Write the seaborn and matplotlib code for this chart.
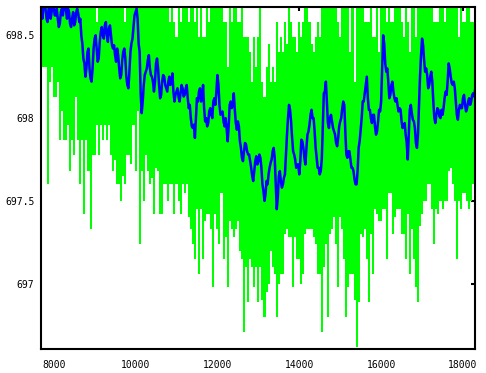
import numpy as np
import pandas as pd
import matplotlib
matplotlib.use("Agg")
import matplotlib.pyplot as plt
import seaborn as sns

# ---- data (one column every 50 x-units) ----
x_start = 7700
x_step = 50

green_hi = [
    698.7, 698.7, 698.7, 698.7, 698.7, 698.7, 698.7, 698.7, 698.7, 698.7,
    698.7, 698.7, 698.7, 698.7, 698.7, 698.7, 698.7, 698.7, 698.7, 698.7,
    698.7, 698.7, 698.7, 698.7, 698.7, 698.7, 698.7, 698.58, 698.7, 698.7,
    698.7, 698.7, 698.7, 698.7, 698.7, 698.7, 698.7, 698.7, 698.7, 698.7,
    698.7, 698.58, 698.7, 698.7, 698.7, 698.7, 698.7, 698.7, 698.7, 698.7,
    698.7, 698.7, 698.7, 698.7, 698.7, 698.7, 698.7, 698.7, 698.7, 698.7,
    698.7, 698.7, 698.7, 698.58, 698.7, 698.58, 698.49, 698.7, 698.58, 698.7,
    698.7, 698.7, 698.58, 698.7, 698.7, 698.58, 698.7, 698.49, 698.7, 698.49,
    698.49, 698.7, 698.58, 698.7, 698.7, 698.7, 698.7, 698.7, 698.7, 698.58,
    698.58, 698.31, 698.7, 698.58, 698.7, 698.7, 698.58, 698.58, 698.7, 698.49,
    698.49, 698.49, 698.4, 698.22, 698.49, 698.31, 698.49, 698.7, 698.22, 698.13,
    698.31, 698.45, 698.22, 698.31, 698.22, 698.58, 698.4, 698.49, 698.4, 698.58,
    698.45, 698.7, 698.58, 698.49, 698.49, 698.4, 698.58, 698.49, 698.58, 698.7,
    698.7, 698.58, 698.45, 698.4, 698.49, 698.58, 698.49, 698.7, 698.7, 698.7,
    698.7, 698.7, 698.7, 698.7, 698.7, 698.58, 698.49, 698.7, 698.7, 698.7,
    698.7, 698.4, 698.7, 698.22, 698.7, 698.7, 698.7, 698.7, 698.58, 698.58,
    698.58, 698.7, 698.49, 698.49, 698.7, 698.4, 698.7, 698.7, 698.7, 698.58,
    698.7, 698.58, 698.58, 698.7, 698.7, 698.7, 698.58, 698.49, 698.7, 698.58,
    698.4, 698.7, 698.7, 698.49, 698.7, 698.7, 698.7, 698.7, 698.7, 698.7,
    698.7, 698.7, 698.58, 698.58, 698.58, 698.7, 698.7, 698.58, 698.7, 698.7,
    698.7, 698.7, 698.7, 698.7, 698.49, 698.7, 698.58, 698.58, 698.7, 698.7,
    698.58, 698.58, 698.7,
]

green_lo = [
    697.87, 698.31, 698.31, 697.6, 698.22, 698.31, 698.13, 698.13, 698.22, 697.87,
    698.04, 697.87, 697.87, 697.96, 697.68, 697.87, 697.78, 698.13, 697.87, 697.6,
    697.87, 697.42, 697.87, 697.68, 697.33, 697.78, 697.78, 697.96, 697.78, 697.96,
    697.87, 697.96, 697.87, 697.96, 697.78, 697.68, 697.75, 697.6, 697.6, 697.5,
    697.65, 697.6, 697.78, 697.78, 697.72, 697.96, 697.68, 698.04, 697.24, 697.68,
    697.5, 697.78, 697.68, 697.6, 697.64, 697.42, 697.7, 697.68, 697.42, 697.42,
    697.6, 697.6, 697.5, 697.6, 697.6, 697.42, 697.6, 697.5, 697.42, 697.6,
    697.55, 697.6, 697.4, 697.33, 697.24, 697.15, 697.45, 697.06, 697.45, 697.15,
    697.38, 697.42, 697.42, 697.33, 696.98, 697.42, 697.33, 697.24, 697.55, 697.15,
    697.28, 696.98, 697.38, 697.33, 697.28, 697.33, 697.38, 697.2, 697.15, 696.71,
    697.1, 696.89, 697.15, 697.1, 696.98, 697.1, 696.89, 697.1, 696.9, 696.8,
    696.95, 697.0, 697.2, 697.1, 697.06, 696.8, 697.0, 697.06, 697.06, 697.3,
    697.33, 697.28, 697.28, 696.98, 697.28, 697.15, 697.15, 697.0, 697.06, 697.3,
    697.33, 697.33, 697.33, 697.28, 697.24, 697.06, 697.06, 696.71, 697.1, 697.24,
    696.8, 697.3, 697.33, 697.4, 697.24, 696.98, 697.4, 697.33, 697.15, 696.8,
    696.98, 697.06, 697.06, 696.9, 696.62, 696.89, 697.3, 697.28, 697.33, 697.15,
    696.89, 697.3, 697.06, 697.45, 697.42, 697.38, 697.38, 697.45, 697.45, 697.15,
    697.55, 697.55, 697.3, 697.4, 697.45, 697.45, 697.3, 697.3, 697.15, 697.42,
    697.06, 697.33, 697.15, 696.98, 696.89, 697.35, 697.42, 697.5, 697.5, 697.6,
    697.6, 697.45, 697.24, 697.45, 697.42, 697.5, 697.45, 697.5, 697.5, 697.68,
    697.7, 697.6, 697.5, 697.15, 697.5, 697.45, 697.55, 697.55, 697.5, 697.45,
    697.5, 697.6, 697.6,
]

# moving average, sampled at each column ...
blue_avg = [
    698.65, 698.68, 698.66, 698.58, 698.67, 698.64, 698.68, 698.62, 698.6, 698.57,
    698.66, 698.68, 698.65, 698.66, 698.57, 698.6, 698.56, 698.64, 698.63, 698.6,
    698.45, 698.33, 698.3, 698.42, 698.24, 698.3, 698.48, 698.42, 698.36, 698.52,
    698.5, 698.56, 698.5, 698.54, 698.5, 698.42, 698.38, 698.42, 698.3, 698.26,
    698.4, 698.36, 698.2, 698.28, 698.45, 698.55, 698.64, 698.6, 698.4, 698.03,
    698.2, 698.28, 698.35, 698.3, 698.25, 698.16, 698.33, 698.3, 698.12, 698.22,
    698.25, 698.18, 698.22, 698.2, 698.27, 698.1, 698.16, 698.13, 698.15, 698.18,
    698.14, 698.2, 698.06, 698.0, 697.94, 697.88, 698.12, 698.16, 698.1, 698.2,
    697.98, 697.95, 698.04, 698.02, 698.1, 698.08, 698.26, 698.08, 698.03, 697.98,
    698.0, 697.86, 698.08, 698.06, 698.15, 697.97, 697.98, 697.86, 697.76, 697.8,
    697.84, 697.78, 697.74, 697.65, 697.68, 697.77, 697.74, 697.76, 697.6, 697.5,
    697.62, 697.66, 697.73, 697.8, 697.76, 697.45, 697.65, 697.62, 697.6, 697.66,
    697.9, 698.08, 697.98, 697.8, 697.75, 697.72, 697.66, 697.87, 697.82, 697.72,
    697.9, 697.96, 698.05, 698.0, 697.82, 697.7, 697.66, 697.75, 698.15, 698.22,
    697.97, 698.0, 697.98, 697.92, 697.85, 697.88, 697.98, 698.06, 698.08, 697.78,
    697.8, 697.75, 697.7, 697.63, 697.6, 697.82, 697.93, 698.1, 698.15, 698.25,
    698.05, 698.0, 698.02, 697.95, 697.92, 698.05, 698.1, 698.5, 698.33, 698.3,
    698.12, 698.2, 698.16, 698.1, 698.08, 698.06, 697.98, 697.96, 697.9, 697.75,
    698.05, 698.03, 697.98, 697.85, 697.9, 698.25, 698.48, 698.35, 698.3, 698.18,
    698.25, 698.22, 698.0, 698.02, 698.05, 698.0, 698.02, 698.12, 698.14, 698.33,
    698.25, 698.2, 698.18, 698.02, 698.05, 698.06, 698.12, 698.08, 698.06, 698.12,
    698.1, 698.15, 698.18,
]

# ... and half-way between columns (the jitter of the average)
blue_mid = [
    698.6, 698.7, 698.6, 698.66, 698.6, 698.7, 698.62, 698.66, 698.55, 698.64,
    698.62, 698.7, 698.6, 698.64, 698.55, 698.64, 698.58, 698.66, 698.58, 698.5,
    698.36, 698.25, 698.4, 698.3, 698.22, 698.42, 698.5, 698.34, 698.46, 698.55,
    698.48, 698.58, 698.46, 698.56, 698.44, 698.44, 698.34, 698.38, 698.24, 698.35,
    698.42, 698.25, 698.18, 698.4, 698.48, 698.62, 698.66, 698.45, 698.15, 698.1,
    698.26, 698.3, 698.38, 698.26, 698.22, 698.22, 698.36, 698.2, 698.14, 698.26,
    698.2, 698.16, 698.25, 698.22, 698.16, 698.14, 698.18, 698.1, 698.2, 698.13,
    698.18, 698.12, 698.08, 697.95, 697.96, 698.0, 698.1, 698.18, 698.12, 698.06,
    698.0, 697.97, 698.06, 698.0, 698.12, 698.16, 698.2, 698.02, 698.04, 697.95,
    697.94, 697.95, 698.1, 698.08, 698.05, 697.93, 697.95, 697.82, 697.74, 697.85,
    697.8, 697.78, 697.7, 697.62, 697.74, 697.72, 697.78, 697.7, 697.56, 697.54,
    697.6, 697.7, 697.75, 697.82, 697.6, 697.52, 697.68, 697.58, 697.64, 697.78,
    698.0, 698.05, 697.88, 697.78, 697.7, 697.72, 697.74, 697.86, 697.76, 697.82,
    697.92, 698.02, 698.0, 697.92, 697.76, 697.7, 697.68, 697.95, 698.16, 698.1,
    697.94, 698.02, 697.94, 697.9, 697.83, 697.95, 698.0, 698.1, 697.92, 697.76,
    697.8, 697.7, 697.68, 697.6, 697.68, 697.86, 698.0, 698.1, 698.2, 698.12,
    698.05, 697.97, 698.02, 697.9, 697.98, 698.04, 698.3, 698.45, 698.28, 698.22,
    698.14, 698.22, 698.12, 698.12, 698.04, 698.05, 697.94, 697.97, 697.85, 697.9,
    698.08, 697.99, 697.94, 697.82, 698.08, 698.38, 698.44, 698.28, 698.26, 698.2,
    698.28, 698.1, 697.97, 698.06, 698.01, 698.05, 698.06, 698.16, 698.22, 698.3,
    698.21, 698.22, 698.1, 697.99, 698.08, 698.06, 698.14, 698.04, 698.1, 698.08,
    698.14, 698.13, 698.2,
]

x_ticks = [8000, 10000, 12000, 14000, 16000, 18000]
x_tick_labels = ["8000", "10000", "12000", "14000", "16000", "18000"]
y_ticks = [697.0, 697.5, 698.0, 698.5]
y_tick_labels = ["697", "697.5", "698", "698.5"]

# ---- build frames ----
xs = x_start + x_step * np.arange(len(green_lo))
raw = pd.DataFrame({
    "x": np.concatenate([xs, xs]),
    "y": np.concatenate([np.array(green_hi), np.array(green_lo)]),
})
bx = np.empty(2 * len(xs))
bx[0::2] = xs
bx[1::2] = xs + x_step / 2
by = np.empty(2 * len(xs))
by[0::2] = blue_avg
by[1::2] = blue_mid
avg = pd.DataFrame({"x": bx, "y": by})

sns.set_style("white")
plt.rcParams["font.family"] = ["DejaVu Sans Mono", "DejaVu Sans"]

fig = plt.figure(figsize=(4.86, 3.73), dpi=100)
W, H = 486, 373
left, right, top, bottom = 41, 474.7, 7.3, 349.3
ax = fig.add_axes([left / W, 1 - bottom / H, (right - left) / W, (bottom - top) / H])

sns.lineplot(data=raw, x="x", y="y", estimator="mean", errorbar=("pi", 100),
             color="#00ff00", linewidth=0,
             err_kws={"alpha": 1, "linewidth": 0, "facecolor": "#00ff00",
                      "step": "mid"},
             ax=ax, legend=False)
sns.lineplot(data=avg, x="x", y="y", color="#0000ff", linewidth=1.8,
             estimator=None, ax=ax, legend=False)

ax.set_xlim(7690, 18286)
ax.set_ylim(696.604, 698.669)
ax.set_xticks(x_ticks)
ax.set_xticklabels(x_tick_labels)
ax.set_yticks(y_ticks)
ax.set_yticklabels(y_tick_labels)
ax.set_xlabel("")
ax.set_ylabel("")

for s in ax.spines.values():
    s.set_visible(True)
    s.set_linewidth(1.5)
    s.set_color("black")

ax.tick_params(axis="both", direction="in", length=3, width=1.5,
               top=True, right=True, colors="black", labelsize=7)
ax.tick_params(axis="x", pad=7.8)
ax.tick_params(axis="y", pad=4.8)

fig.savefig("out.png", dpi=100)
